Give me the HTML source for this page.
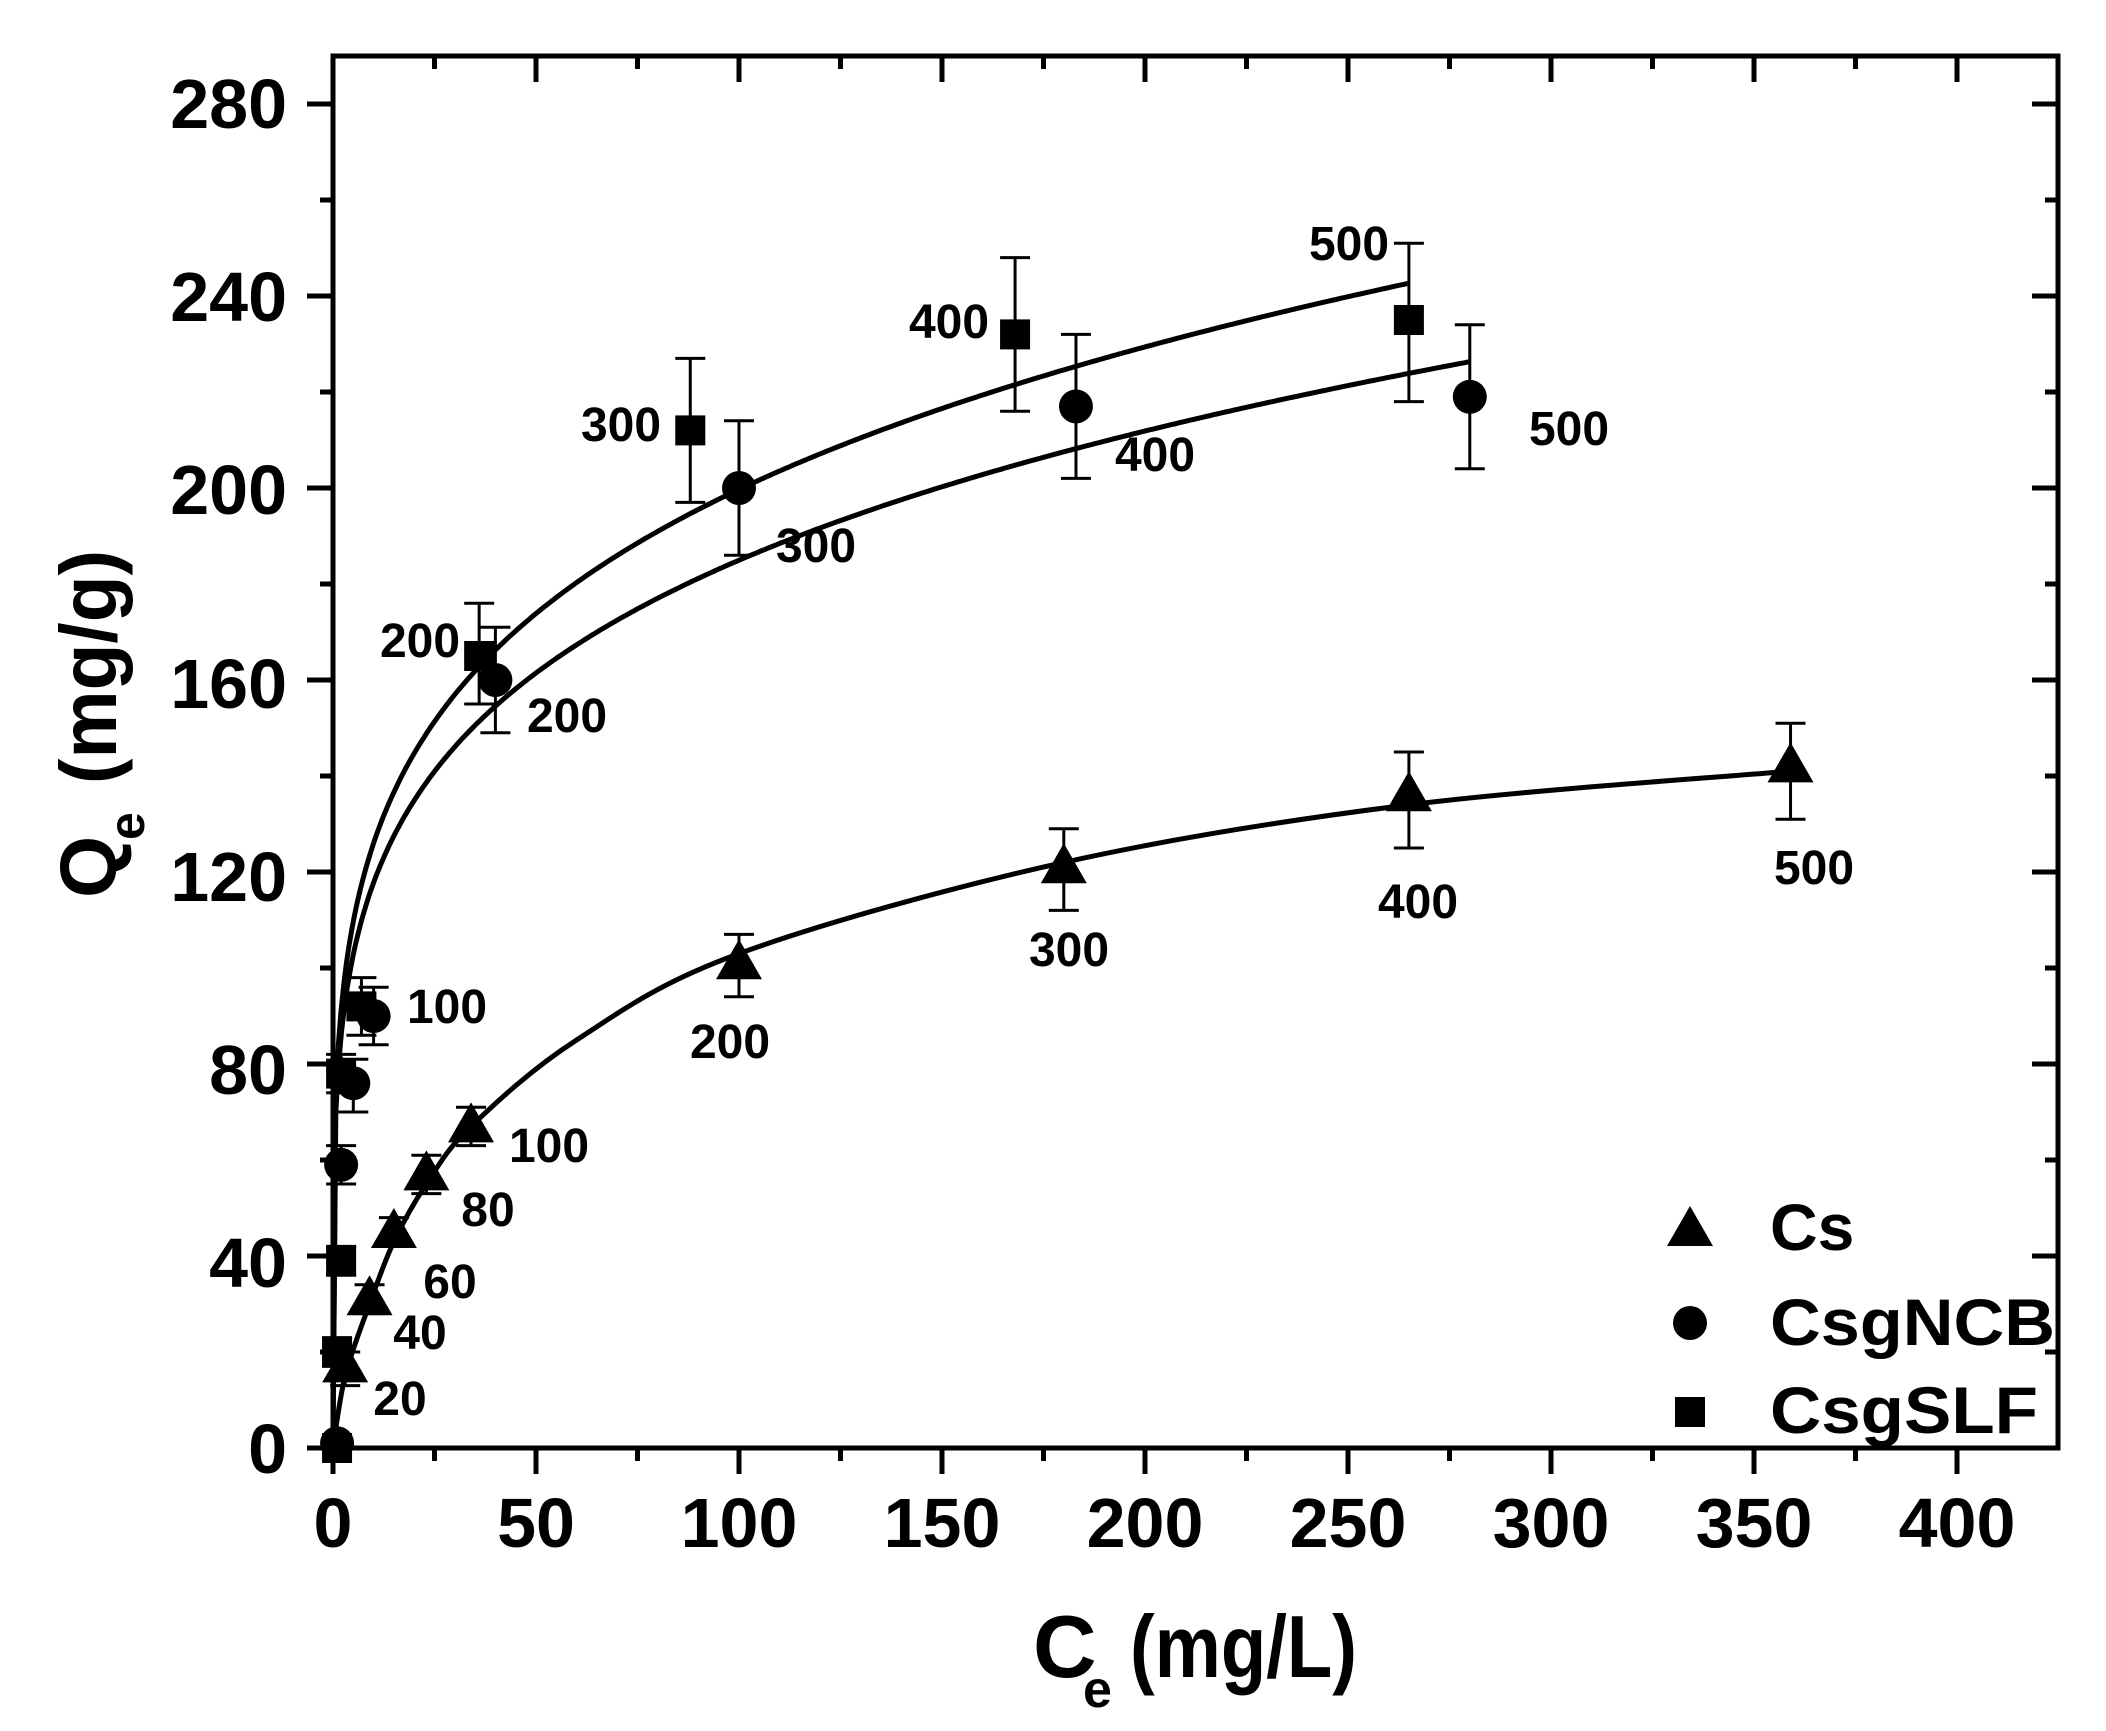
<!DOCTYPE html>
<html><head><meta charset="utf-8"><style>
html,body{margin:0;padding:0;background:#fff;}
svg{display:block;font-family:"Liberation Sans",Arial,sans-serif;font-weight:bold;}
</style></head><body>
<svg id="s" width="2106" height="1731" viewBox="0 0 2106 1731" xmlns="http://www.w3.org/2000/svg">
<rect width="2106" height="1731" fill="#fff"/>
<g id="g"></g>
<g font-size="70" text-anchor="end">
<text x="287" y="128">280</text>
<text x="287" y="321">240</text>
<text x="287" y="514">200</text>
<text x="287" y="708">160</text>
<text x="287" y="901">120</text>
<text x="287" y="1094">80</text>
<text x="287" y="1287">40</text>
<text x="287" y="1473">0</text>
</g>
<g font-size="70" text-anchor="middle">
<text x="333" y="1547">0</text>
<text x="536" y="1547">50</text>
<text x="739" y="1547">100</text>
<text x="942" y="1547">150</text>
<text x="1145" y="1547">200</text>
<text x="1348" y="1547">250</text>
<text x="1551" y="1547">300</text>
<text x="1754" y="1547">350</text>
<text x="1957" y="1547">400</text>
</g>
<text x="1033" y="1677" font-size="88">C</text>
<text x="1083" y="1707" font-size="52">e</text>
<text x="1130" y="1677" font-size="88" textLength="227" lengthAdjust="spacingAndGlyphs">(mg/L)</text>
<g transform="translate(116,898) rotate(-90)">
<text x="0" y="0" font-size="80">Q</text>
<text x="58" y="28" font-size="50">e</text>
<text x="114" y="0" font-size="80" textLength="234" lengthAdjust="spacingAndGlyphs">(mg/g)</text>
</g>
<g font-size="66">
<text x="1770" y="1250">Cs</text>
<text x="1770" y="1345" textLength="285" lengthAdjust="spacingAndGlyphs">CsgNCB</text>
<text x="1770" y="1433" textLength="268" lengthAdjust="spacingAndGlyphs">CsgSLF</text>
</g>
<g font-size="48" text-anchor="middle">
<text x="400" y="1415">20</text><text x="420" y="1349">40</text><text x="450" y="1298">60</text><text x="488" y="1226">80</text><text x="549" y="1162">100</text>
<text x="730" y="1058">200</text><text x="1069" y="966">300</text><text x="1418" y="918">400</text><text x="1814" y="884">500</text>
<text x="447" y="1023">100</text><text x="567" y="732">200</text><text x="816" y="562">300</text><text x="1155" y="471">400</text><text x="1569" y="445">500</text>
<text x="420" y="657">200</text><text x="621" y="441">300</text><text x="949" y="338">400</text><text x="1349" y="260">500</text>
</g>
</svg>
<script>
const g=document.getElementById('g');let h='';
const X=c=>333+c*4.06, Y=q=>1448-q*4.8;
h+='<rect x="333" y="56" width="1725" height="1392" fill="none" stroke="#000" stroke-width="5"/>';
for(let i=0;i<=8;i++){let x=X(i*50);h+=`<line x1="${x}" y1="1448" x2="${x}" y2="1474" stroke="#000" stroke-width="5"/><line x1="${x}" y1="56" x2="${x}" y2="82" stroke="#000" stroke-width="5"/>`;
 let xm=X(i*50+25); if(i*50+25<424) h+=`<line x1="${xm}" y1="1448" x2="${xm}" y2="1461" stroke="#000" stroke-width="5"/><line x1="${xm}" y1="56" x2="${xm}" y2="69" stroke="#000" stroke-width="5"/>`;}
for(let i=0;i<=7;i++){let y=Y(i*40);h+=`<line x1="307" y1="${y}" x2="333" y2="${y}" stroke="#000" stroke-width="5"/><line x1="2032" y1="${y}" x2="2058" y2="${y}" stroke="#000" stroke-width="5"/>`;
 let ym=Y(i*40+20); if(i<7) h+=`<line x1="320" y1="${ym}" x2="333" y2="${ym}" stroke="#000" stroke-width="5"/><line x1="2045" y1="${ym}" x2="2058" y2="${ym}" stroke="#000" stroke-width="5"/>`;}
function curve(f,max){let p=[];for(let c=0;c<=max;c+=max/400){p.push(X(c).toFixed(1)+','+Y(f(c)).toFixed(1));}return `<polyline points="${p.join(' ')}" fill="none" stroke="#000" stroke-width="5"/>`;}
h+=curve(c=>79.5*Math.pow(c,0.2),265);
h+=curve(c=>75*Math.pow(c,0.196),280);
const cp=[[0,0],[3,15],[9,30],[15,43],[23,55],[34,67],[60,85],[100,103],[180,122],[265,134],[359,141]].map(d=>[X(d[0]),Y(d[1])]);
let dstr=`M${cp[0][0]},${cp[0][1]}`;
for(let i=0;i<cp.length-1;i++){const p0=cp[Math.max(0,i-1)],p1=cp[i],p2=cp[i+1],p3=cp[Math.min(cp.length-1,i+2)];
 const c1=[p1[0]+(p2[0]-p0[0])/6,p1[1]+(p2[1]-p0[1])/6],c2=[p2[0]-(p3[0]-p1[0])/6,p2[1]-(p3[1]-p1[1])/6];
 dstr+=` C${c1[0]},${c1[1]} ${c2[0]},${c2[1]} ${p2[0]},${p2[1]}`;}
h+=`<path d="${dstr}" fill="none" stroke="#000" stroke-width="5"/>`;
function eb(c,lo,hi){let x=X(c);return `<line x1="${x}" y1="${Y(lo)}" x2="${x}" y2="${Y(hi)}" stroke="#000" stroke-width="3"/><line x1="${x-15}" y1="${Y(lo)}" x2="${x+15}" y2="${Y(lo)}" stroke="#000" stroke-width="3"/><line x1="${x-15}" y1="${Y(hi)}" x2="${x+15}" y2="${Y(hi)}" stroke="#000" stroke-width="3"/>`;}
const tri=(x,y)=>`<polygon points="${x},${y-24} ${x-23},${y+16} ${x+23},${y+16}" fill="#000"/>`;
const cir=(x,y)=>`<circle cx="${x}" cy="${y}" r="17" fill="#000"/>`;
const sq=(x,y)=>`<rect x="${x-15}" y="${y-15}" width="30" height="30" fill="#000"/>`;
const cs=[[3,17,13,20],[9,31,28,34],[15,45,42,48],[23,57,53,61],[34,67,63,71],[100,101,94,107],[180,121,112,129],[265,136,125,145],[359,142,131,151]];
const ncb=[[1,1,0,2],[2,59,55,63],[5,76,70,81],[10,90,84,96],[40,160,149,171],[100,200,186,214],[183,217,202,232],[280,219,204,234]];
const slf=[[1,0,0,1],[1,20,17,23],[2,39,36,42],[2,78,74,82],[7,92,86,98],[36,165,155,176],[88,212,197,227],[168,232,216,248],[265,235,218,251]];
for(const d of slf){h+=eb(d[0],d[2],d[3])+sq(X(d[0]),Y(d[1]));}
for(const d of ncb){h+=eb(d[0],d[2],d[3])+cir(X(d[0]),Y(d[1]));}
for(const d of cs){h+=eb(d[0],d[2],d[3])+tri(X(d[0]),Y(d[1]));}
h+=tri(1690,1230)+cir(1690,1323)+sq(1690,1412);
g.innerHTML=h;
</script>
</body></html>
